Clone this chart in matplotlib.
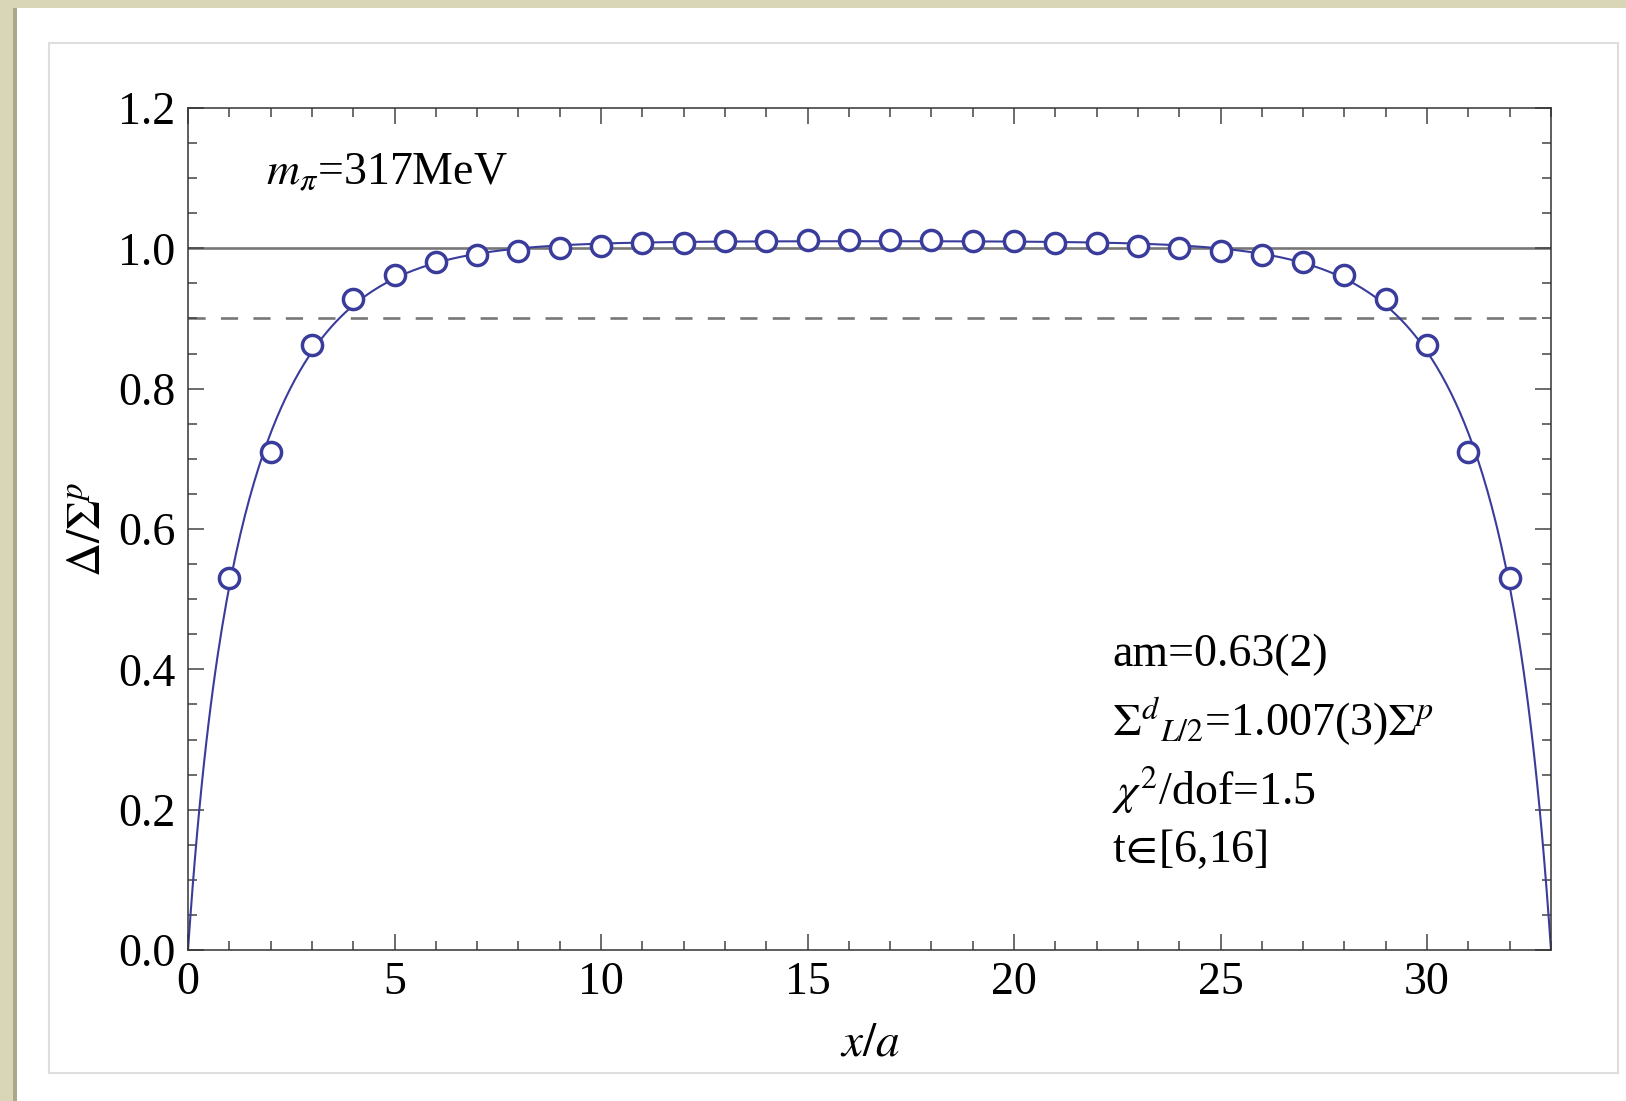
import numpy as np
import matplotlib
matplotlib.use("Agg")
import matplotlib.pyplot as plt
from matplotlib.patches import Rectangle
from matplotlib.ticker import MultipleLocator, FormatStrFormatter

# Data: Delta / Sigma^p versus x/a
x_pts = np.arange(1, 33)
ratio = [0.530, 0.710, 0.862, 0.928, 0.962, 0.980, 0.990, 0.996,
         1.001, 1.004, 1.007, 1.008, 1.010, 1.011, 1.012, 1.012,
         1.012, 1.012, 1.011, 1.010, 1.008, 1.007, 1.004, 1.001,
         0.996, 0.990, 0.980, 0.962, 0.928, 0.862, 0.710, 0.530]
ratio = np.array(ratio)
L = 33  # box length, the fit goes to zero at both walls

ref_solid = 1.0
ref_dashed = 0.9

label_mpi = r"$m_{\pi}$=317MeV"
fit_lines = ["am=0.63(2)",
             r"$\Sigma^{d}{}_{L/2}$=1.007(3)$\Sigma^{p}$",
             r"$\chi^{2}$/dof=1.5",
             r"t$\!{\in}\!$[6,16]"]

blue = "#3a3c9c"


# Least squares fit of a two-mass cosh profile to the points
def prof(m, x):
    return np.cosh(m * (x - L / 2)) / np.cosh(m * L / 2)


best = None
for m1 in np.linspace(0.3, 2.0, 69):
    for m2 in np.linspace(0.1, 1.0, 46):
        B = np.column_stack([1 - prof(m2, x_pts), -(prof(m1, x_pts) - prof(m2, x_pts))])
        coef, *_ = np.linalg.lstsq(B, ratio, rcond=None)
        res = np.sum((B @ coef - ratio) ** 2)
        if best is None or res < best[0]:
            best = (res, m1, m2, coef)
_, m1, m2, (a, b) = best
x_fit = np.linspace(0, L, 600)
y_fit = a * (1 - prof(m2, x_fit)) - b * (prof(m1, x_fit) - prof(m2, x_fit))

plt.rcParams["font.family"] = ["Liberation Serif", "DejaVu Serif"]
plt.rcParams["mathtext.fontset"] = "stix"

fig = plt.figure(figsize=(16.26, 11.01), dpi=100)
W, H = 1626, 1101

# page background: beige strips and the framed white panel
fig.patches.append(Rectangle((0, 0), 13 / W, 1, transform=fig.transFigure,
                             facecolor="#d8d6b6", edgecolor="none", zorder=-10))
fig.patches.append(Rectangle((13 / W, 0), 4 / W, 1 - 8 / H, transform=fig.transFigure,
                             facecolor="#a9a98a", edgecolor="none", zorder=-10))
fig.patches.append(Rectangle((0, 1 - 8 / H), 1, 8 / H, transform=fig.transFigure,
                             facecolor="#d8d6b6", edgecolor="none", zorder=-10))
fig.patches.append(Rectangle((49 / W, 1 - 1073 / H), (1618 - 49) / W, (1073 - 43) / H,
                             transform=fig.transFigure, facecolor="white",
                             edgecolor="#dedede", linewidth=1.5, zorder=-9))

ax = fig.add_axes([188 / W, 1 - 950 / H, (1551 - 188) / W, (950 - 108) / H])

ax.axhline(ref_solid, color="#777777", lw=1.9, zorder=1)
ax.axhline(ref_dashed, color="#777777", lw=1.9, ls=(0, (6.5, 5.8)), zorder=1)
ax.plot(x_fit, y_fit, color=blue, lw=1.5, zorder=2)
ax.plot(x_pts, ratio, "o", ms=14.5, mfc="white", mec=blue, mew=2.5, zorder=3)

ax.set_xlim(0, L)
ax.set_ylim(0, 1.2)
ax.xaxis.set_major_locator(MultipleLocator(5))
ax.xaxis.set_minor_locator(MultipleLocator(1))
ax.yaxis.set_major_locator(MultipleLocator(0.2))
ax.yaxis.set_minor_locator(MultipleLocator(0.05))
ax.yaxis.set_major_formatter(FormatStrFormatter("%.1f"))
ax.tick_params(which="both", direction="in", top=True, right=True,
               color="#444444", width=1.1, labelsize=33)
ax.tick_params(which="major", length=11.5)
ax.tick_params(which="minor", length=6.5)
ax.tick_params(axis="x", pad=8)
ax.tick_params(axis="y", pad=9)
for s in ax.spines.values():
    s.set_color("#333333")
    s.set_linewidth(1.1)

ax.set_xlabel(r"$x/a$", fontsize=34, labelpad=14)
ax.set_ylabel(r"$\Delta/\Sigma^{p}$", fontsize=34, labelpad=6)

ax.text(1.9, 1.107, label_mpi, fontsize=33, va="center", ha="left")
for txt, yy in zip(fit_lines, [0.420, 0.326, 0.228, 0.143]):
    ax.text(22.37, yy, txt, fontsize=33, va="center", ha="left")

plt.savefig("out.png", dpi=100)
